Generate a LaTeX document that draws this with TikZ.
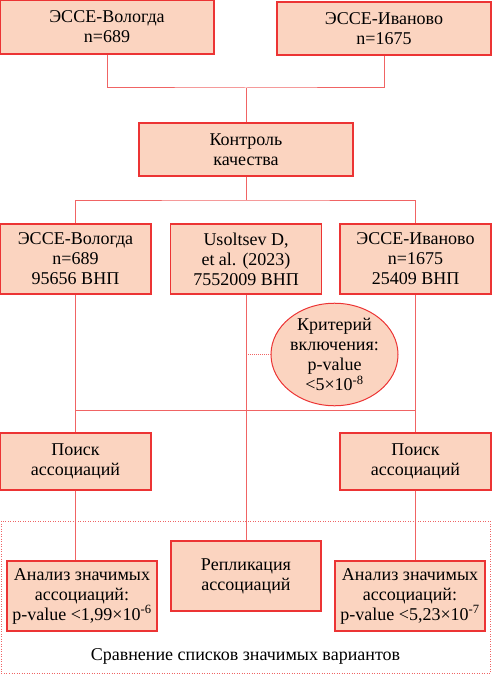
\documentclass[tikz,border=0pt]{standalone}
\usepackage{fontspec}
\setmainfont{Liberation Serif}
\usetikzlibrary{positioning, shapes.geometric}

\definecolor{boxfill}{RGB}{251,212,192}
\definecolor{boxline}{RGB}{236,52,52}
\definecolor{linkline}{RGB}{240,100,100}

\begin{document}
\begin{tikzpicture}[
    x=1pt, y=-1pt,
    box/.style={rectangle, draw=boxline, fill=boxfill, line width=1.2pt, align=center,
      inner sep=0pt, font=\fontsize{18}{20}\selectfont},
    crit/.style={ellipse, draw=boxline, fill=boxfill, line width=1pt, align=center,
      inner sep=0pt, font=\fontsize{18}{20}\selectfont},
    link/.style={draw=linkline, line width=1pt}
  ]
    \useasboundingbox (0,0) rectangle (491,674);

    % sources
    \node[box, minimum width=214pt, minimum height=54pt] (vol) at (107,27) {ЭССЕ-Вологда\\n=689};
    \node[box, minimum width=214pt, minimum height=53pt] (iva) at (384,28.5) {ЭССЕ-Иваново\\n=1675};
    \node[box, minimum width=214pt, minimum height=53pt] (qc) at (246,149.5) {Контроль\\качества};

    % after QC
    \node[box, minimum width=151pt, minimum height=70pt] (volsnp) at (75.5,259) {ЭССЕ-Вологда\\n=689\\95656 ВНП};
    \node[box, minimum width=151pt, minimum height=70pt] (ref) at (246,259) {Usoltsev D,\\et al. (2023)\\7552009 ВНП};
    \node[box, minimum width=151pt, minimum height=70pt] (ivasnp) at (415.5,259) {ЭССЕ-Иваново\\n=1675\\25409 ВНП};
    \node[crit, minimum width=127pt, minimum height=97pt] (incl) at (334.5,354.5) {Критерий\\включения:\\p-value\\<5×10\textsuperscript{-8}};

    % search
    \node[box, minimum width=151pt, minimum height=57pt] (search1) at (75.5,461.5) {Поиск\\ассоциаций};
    \node[box, minimum width=151pt, minimum height=57pt] (search2) at (415.5,461.5) {Поиск\\ассоциаций};

    % comparison
    \draw[linkline, line width=0.5pt, dotted] (1,521) rectangle (490,673);
    \node[box, minimum width=150pt, minimum height=70pt] (sig1) at (82,596) {Анализ значимых\\ассоциаций:\\p-value <1,99×10\textsuperscript{-6}};
    \node[box, minimum width=150pt, minimum height=70pt] (rep) at (246,576) {Репликация\\ассоциаций};
    \node[box, minimum width=150pt, minimum height=70pt] (sig2) at (410,596) {Анализ значимых\\ассоциаций:\\p-value <5,23×10\textsuperscript{-7}};
    \node[font=\fontsize{18}{20}\selectfont] (cmp) at (245.5,656) {Сравнение списков значимых вариантов};

    \coordinate (j1) at (246,88);
    \coordinate (j2) at (246,200);
    \coordinate (j3) at (246,410);

    \draw[link] (vol.south) |- (j1) -| (iva.south);
    \draw[link] (j1) -- (qc.north);
    \draw[link] (qc.south) -- (j2);
    \draw[link] (volsnp.north) |- (j2) -| (ivasnp.north);
    \draw[link] (volsnp.south) -- (search1.north);
    \draw[link] (ivasnp.south) -- (search2.north);
    \draw[link] (ref.south) -- (rep.north);
    \draw[link] (volsnp.south |- j3) -- (ivasnp.south |- j3);
    \draw[link, densely dotted] (ref.south |- incl.west) -- (incl.west);
    \draw[link] (search1.south) -- (search1.south |- sig1.north);
    \draw[link] (search2.south) -- (search2.south |- sig2.north);
  \end{tikzpicture}
\end{document}
